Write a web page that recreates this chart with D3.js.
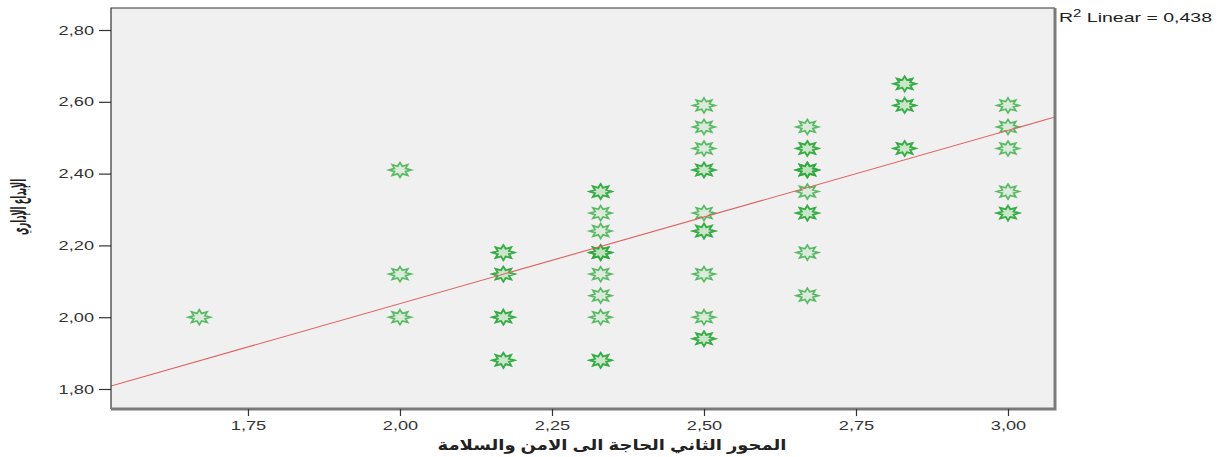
<!DOCTYPE html>
<html>
<head>
<meta charset="utf-8">
<script src="https://cdn.jsdelivr.net/npm/d3@7"></script>
<style>
  html, body { margin: 0; padding: 0; background: #ffffff; }
  svg { display: block; }
  text { font-family: "Liberation Sans", Arial, "DejaVu Sans", sans-serif; }
</style>
</head>
<body>
<svg id="chart" width="1232" height="457"></svg>
<script>
// Scatter of the two scale means with a linear fit line.
const needScore      = [1.67, 2.00, 2.00, 2.00, 2.17, 2.17, 2.17, 2.17,
                        2.33, 2.33, 2.33, 2.33, 2.33, 2.33, 2.33, 2.33,
                        2.50, 2.50, 2.50, 2.50, 2.50, 2.50, 2.50, 2.50, 2.50,
                        2.67, 2.67, 2.67, 2.67, 2.67, 2.67, 2.67,
                        2.83, 2.83, 2.83,
                        3.00, 3.00, 3.00, 3.00, 3.00];
const creativityScore = [2.00, 2.41, 2.12, 2.00, 2.18, 2.12, 2.00, 1.88,
                        2.35, 2.29, 2.24, 2.18, 2.12, 2.06, 2.00, 1.88,
                        2.59, 2.53, 2.47, 2.41, 2.29, 2.24, 2.12, 2.00, 1.94,
                        2.53, 2.47, 2.41, 2.35, 2.29, 2.18, 2.06,
                        2.65, 2.59, 2.47,
                        2.59, 2.53, 2.47, 2.35, 2.29];
const caseCount      = [1, 1, 1, 1, 2, 2, 2, 2,
                        2, 1, 1, 3, 1, 1, 1, 2,
                        1, 1, 1, 2, 1, 2, 1, 1, 2,
                        1, 2, 3, 1, 2, 1, 1,
                        2, 2, 2,
                        1, 1, 1, 1, 2];
const xTicks = [1.75, 2.00, 2.25, 2.50, 2.75, 3.00];
const yTicks = [1.80, 2.00, 2.20, 2.40, 2.60, 2.80];
const fitIntercept = 1.0726;
const fitSlope = 0.4826;
const rSquared = 0.438;
const xTitle = "المحور الثاني الحاجة الى الامن والسلامة";
const yTitle = "الإبداع الإداري";

const svg = d3.select("#chart");
const plot = { left: 111, right: 1055, top: 8, bottom: 409 };
const wide = 1.4; // horizontal stretch of the lettering
const comma = (v, d) => d3.format("." + d + "f")(v).replace(".", ",");

const x = d3.scaleLinear().domain([1.5247, 3.0773]).range([plot.left, plot.right]);
const y = d3.scaleLinear().domain([1.7443, 2.8613]).range([plot.bottom, plot.top]);

// plot background
svg.append("rect")
  .attr("x", plot.left).attr("y", plot.top)
  .attr("width", plot.right - plot.left).attr("height", plot.bottom - plot.top)
  .attr("fill", "#f0f0f0");

// clipped layer for marks
svg.append("clipPath").attr("id", "clip").append("rect")
  .attr("x", plot.left).attr("y", plot.top)
  .attr("width", plot.right - plot.left).attr("height", plot.bottom - plot.top);
const marks = svg.append("g").attr("clip-path", "url(#clip)");

// 8-point star marker, stretched horizontally
function starPath(rx, ry, inner) {
  const pts = [];
  for (let i = 0; i < 16; i++) {
    const a = Math.PI / 8 * i - Math.PI / 2;
    const r = i % 2 === 0 ? 1 : inner;
    pts.push([Math.cos(a) * r * rx, Math.sin(a) * r * ry]);
  }
  return "M" + pts.map(p => p[0].toFixed(2) + "," + p[1].toFixed(2)).join("L") + "Z";
}
const star = starPath(11, 7.5, 0.55);

const points = needScore.map((v, i) => ({ nx: v, cy: creativityScore[i], n: caseCount[i] }));
const expanded = points.flatMap(p => d3.range(p.n).map(() => p));

marks.selectAll("path.pt").data(expanded).join("path")
  .attr("class", "pt")
  .attr("d", star)
  .attr("transform", d => `translate(${x(d.nx)},${y(d.cy)})`)
  .attr("fill", "#7fd37f")
  .attr("fill-opacity", 0.18)
  .attr("stroke", "#2aa83a")
  .attr("stroke-opacity", 0.75)
  .attr("stroke-width", 1.7);

// fit line
const xd = x.domain();
marks.append("line")
  .attr("x1", x(xd[0])).attr("y1", y(fitIntercept + fitSlope * xd[0]))
  .attr("x2", x(xd[1])).attr("y2", y(fitIntercept + fitSlope * xd[1]))
  .attr("stroke", "#e06060").attr("stroke-width", 1.1);

// frame: thin dark on left/top, heavier gray on right/bottom
svg.append("path")
  .attr("d", `M${plot.left},${plot.bottom}V${plot.top}H${plot.right}`)
  .attr("fill", "none").attr("stroke", "#333").attr("stroke-width", 1.2);
svg.append("path")
  .attr("d", `M${plot.left},${plot.bottom}H${plot.right}V${plot.top}`)
  .attr("fill", "none").attr("stroke", "#7a7a7a").attr("stroke-width", 3);

// y axis
const yAxis = d3.axisLeft(y).tickValues(yTicks).tickFormat(v => comma(v, 2)).tickSize(12).tickPadding(4);
const gy = svg.append("g").attr("transform", `translate(${plot.left},0)`).call(yAxis);
gy.select(".domain").remove();
gy.selectAll("line").attr("stroke", "#333").attr("stroke-width", 1.2);
gy.selectAll("text")
  .attr("font-size", 13).attr("fill", "#333")
  .attr("x", 0)
  .attr("transform", `translate(-17,0) scale(${wide},1)`);

// x axis
const xAxis = d3.axisBottom(x).tickValues(xTicks).tickFormat(v => comma(v, 2)).tickSize(7).tickPadding(5);
const gx = svg.append("g").attr("transform", `translate(0,${plot.bottom})`).call(xAxis);
gx.select(".domain").remove();
gx.selectAll("line").attr("stroke", "#333").attr("stroke-width", 1.2);
gx.selectAll("text")
  .attr("font-size", 13).attr("fill", "#333")
  .attr("transform", `scale(${wide},1)`);

// titles
svg.append("text")
  .attr("transform", `translate(${612},450) scale(1.2,1)`)
  .attr("text-anchor", "middle")
  .attr("font-size", 15).attr("font-weight", "bold").attr("fill", "#222")
  .attr("font-family", "'DejaVu Sans', sans-serif")
  .attr("direction", "rtl")
  .text(xTitle);

svg.append("text")
  .attr("transform", `translate(26,207) scale(${wide},1) rotate(-90)`)
  .attr("text-anchor", "middle")
  .attr("font-size", 15).attr("font-weight", "bold").attr("fill", "#222")
  .attr("font-family", "'DejaVu Sans', sans-serif")
  .attr("direction", "rtl")
  .attr("textLength", 56).attr("lengthAdjust", "spacingAndGlyphs")
  .text(yTitle);

// fit annotation
const ann = svg.append("text")
  .attr("transform", `translate(1059,22) scale(1.5,1)`)
  .attr("font-size", 13).attr("fill", "#222");
ann.append("tspan").text("R");
ann.append("tspan").attr("font-size", 10).attr("dy", -5).text("2");
ann.append("tspan").attr("dy", 5).text(" Linear = " + comma(rSquared, 3));
</script>
</body>
</html>
